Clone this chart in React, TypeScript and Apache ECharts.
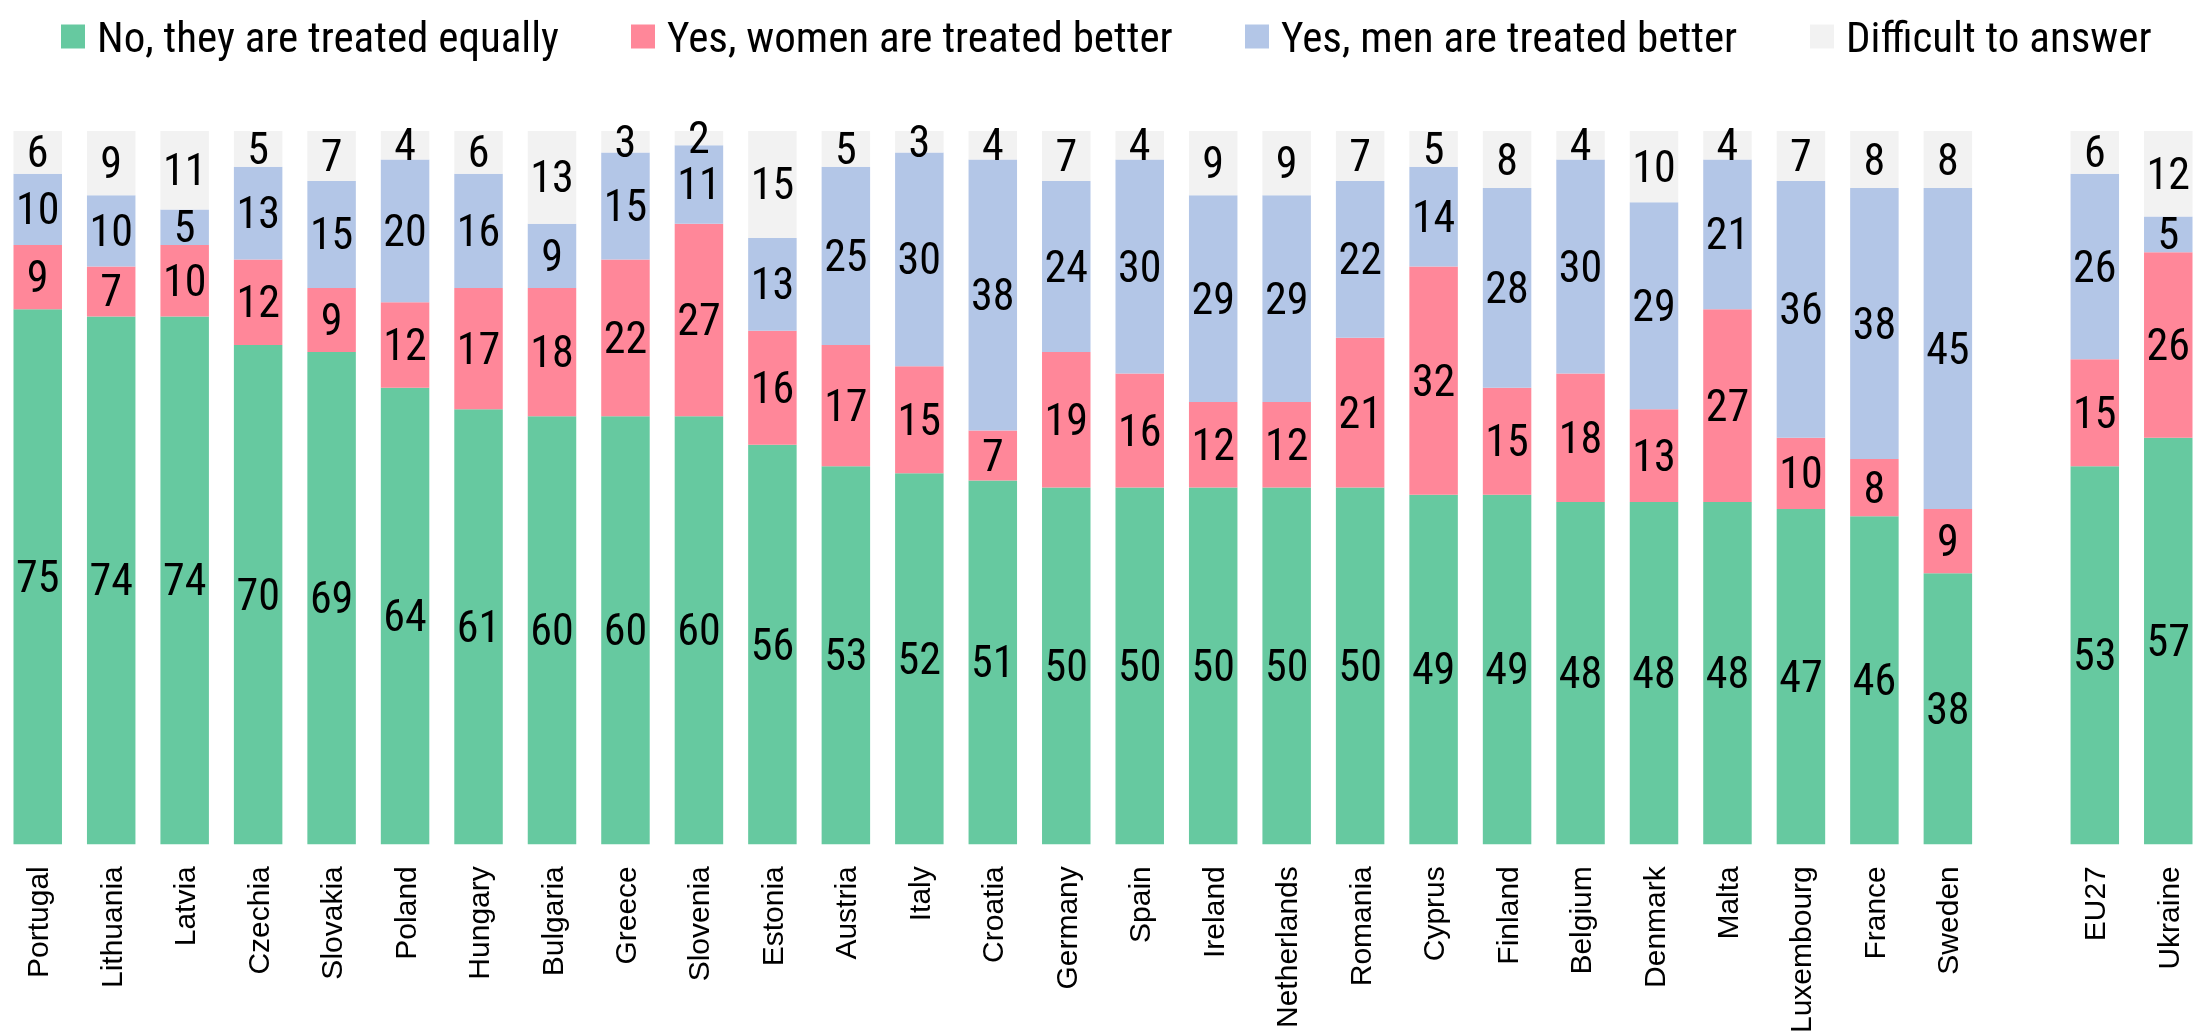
import React, { useEffect, useRef } from "react";
import * as echarts from "echarts";

const categories = [
  "Portugal", "Lithuania", "Latvia", "Czechia", "Slovakia", "Poland", "Hungary", "Bulgaria",
  "Greece", "Slovenia", "Estonia", "Austria", "Italy", "Croatia", "Germany", "Spain",
  "Ireland", "Netherlands", "Romania", "Cyprus", "Finland", "Belgium", "Denmark", "Malta",
  "Luxembourg", "France", "Sweden", "", "EU27", "Ukraine",
];

const seriesNames = [
  "No, they are treated equally",
  "Yes, women are treated better",
  "Yes, men are treated better",
  "Difficult to answer",
];

const treatedEqually = [75, 74, 74, 70, 69, 64, 61, 60, 60, 60, 56, 53, 52, 51, 50, 50, 50, 50, 50, 49, 49, 48, 48, 48, 47, 46, 38, null, 53, 57];
const womenBetter = [9, 7, 10, 12, 9, 12, 17, 18, 22, 27, 16, 17, 15, 7, 19, 16, 12, 12, 21, 32, 15, 18, 13, 27, 10, 8, 9, null, 15, 26];
const menBetter = [10, 10, 5, 13, 15, 20, 16, 9, 15, 11, 13, 25, 30, 38, 24, 30, 29, 29, 22, 14, 28, 30, 29, 21, 36, 38, 45, null, 26, 5];
const difficult = [6, 9, 11, 5, 7, 4, 6, 13, 3, 2, 15, 5, 3, 4, 7, 4, 9, 9, 7, 5, 8, 4, 10, 4, 7, 8, 8, null, 6, 12];

const colors = ["#66C9A0", "#FF8799", "#B3C6E7", "#F2F2F2"];
const legendLefts = [61, 631, 1245, 1810];
const condensed = "'Roboto Condensed', 'Liberation Sans Narrow', 'DejaVu Sans Condensed', Roboto, sans-serif";

export default function App() {
  const ref = useRef<HTMLDivElement>(null);
  useEffect(() => {
    document.body.style.margin = "0";
    const chart = echarts.init(ref.current!, null, { renderer: "svg" });
    const values = [treatedEqually, womenBetter, menBetter, difficult];
    chart.setOption({
      animation: false,
      color: colors,
      legend: seriesNames.map((name, i) => ({
        top: 15,
        left: legendLefts[i],
        itemWidth: 24,
        itemHeight: 24,
        icon: "rect",
        padding: 0,
        textStyle: {
          fontFamily: condensed,
          fontSize: 43,
          color: "#000",
          lineHeight: 24,
          padding: [0, 0, 0, 7],
        },
        data: [name],
      })),
      grid: { left: 1, right: -4, top: 131, bottom: 175, containLabel: false },
      xAxis: {
        type: "category",
        data: categories,
        axisTick: { show: false },
        axisLine: { show: false },
        axisLabel: {
          rotate: 90,
          interval: 0,
          margin: 22,
          fontFamily: "'Liberation Sans', Arial, sans-serif",
          fontSize: 30,
          color: "#000",
        },
      },
      yAxis: { type: "value", min: 0, max: 100, show: false, splitLine: { show: false } },
      series: seriesNames.map((name, i) => ({
        name,
        type: "bar",
        stack: "total",
        barCategoryGap: "34%",
        data: values[i],
        itemStyle: { color: colors[i] },
        label: {
          show: true,
          position: "inside",
          fontFamily: condensed,
          fontSize: 44,
          color: "#000",
          formatter: (p: any) => (p.value == null ? "" : String(p.value)),
        },
      })),
    });
    return () => chart.dispose();
  }, []);
  return <div ref={ref} style={{ position: "fixed", left: 0, top: 0, width: 2205, height: 1036 }} />;
}
